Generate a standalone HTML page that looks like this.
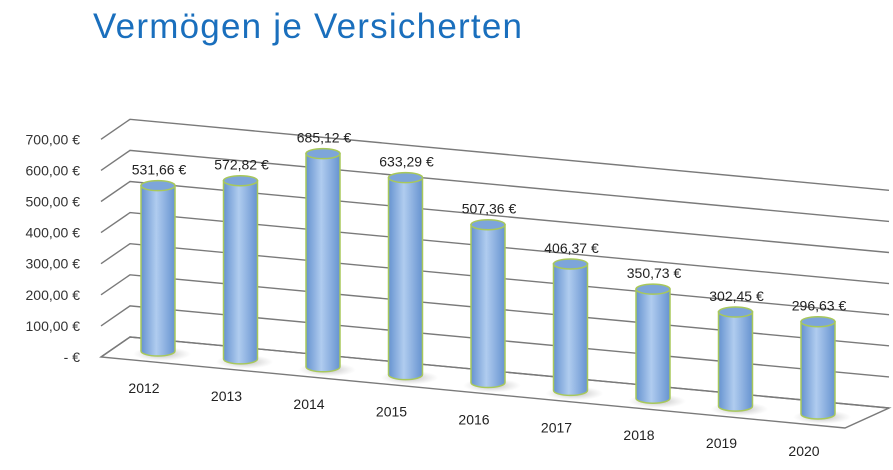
<!DOCTYPE html>
<html><head><meta charset="utf-8"><style>
html,body{margin:0;padding:0;background:#fff;}
svg{display:block;font-family:"Liberation Sans",sans-serif;}
</style></head><body>
<svg id="chart" width="893" height="470" viewBox="0 0 893 470">
<defs>
<linearGradient id="cyl" x1="0" x2="1" y1="0" y2="0">
<stop offset="0" stop-color="#6693d0"/><stop offset="0.45" stop-color="#b0ccef"/><stop offset="1" stop-color="#6693d0"/>
</linearGradient>
<radialGradient id="shadow"><stop offset="0" stop-color="#999" stop-opacity="0.7"/><stop offset="1" stop-color="#bbb" stop-opacity="0"/></radialGradient>
</defs>
<text x="93" y="38" font-size="35" fill="#1a6fbd" textLength="429">Vermögen je Versicherten</text>
<g id="grid"></g><g id="bars"></g><g id="labels"></g>
</svg>
<script>
const categories = ["2012","2013","2014","2015","2016","2017","2018","2019","2020"];
const values = [531.66,572.82,685.12,633.29,507.36,406.37,350.73,302.45,296.63];
const valueLabels = ["531,66 €","572,82 €","685,12 €","633,29 €","507,36 €","406,37 €","350,73 €","302,45 €","296,63 €"];
const ticks = [0,100,200,300,400,500,600,700];
const tickLabels = ["-  €","100,00 €","200,00 €","300,00 €","400,00 €","500,00 €","600,00 €","700,00 €"];

const NS="http://www.w3.org/2000/svg";
const slope=71/744, pxPer=31.1/100;
const fx0=101, fy0=357;
const bx0=130, by0=337;
const W=744;
function yv(v){return v*pxPer;}
function mk(tag,attrs,parent){const e=document.createElementNS(NS,tag);for(const k in attrs)e.setAttribute(k,attrs[k]);parent.appendChild(e);return e;}
const grid=document.getElementById('grid'), bars=document.getElementById('bars'), labels=document.getElementById('labels');

const fl=mk('polygon',{points:`${fx0},${fy0} ${bx0},${by0} ${bx0+W+15},${by0+W*slope} ${fx0+W},${fy0+W*slope}`,fill:'none',stroke:'#7a7a7a','stroke-width':1.4},grid);


ticks.forEach((t,i)=>{
  const h=yv(t);
  const g=mk('polyline',{points:`${fx0},${fy0-h} ${bx0},${by0-h} ${bx0+W+15},${by0-h+W*slope}`,fill:'none',stroke:'#7a7a7a','stroke-width':1.4},grid);
  
  
  const tl=mk('text',{x:80,y:fy0-h+5,'font-size':14,'text-anchor':'end',fill:'#333'},labels);
  tl.textContent=tickLabels[i];
  
  
});
const x0=158, dx=82.5, bw=34, ry=5;
categories.forEach((c,i)=>{
  const cx=x0+i*dx;
  const by=347+(cx-116)*slope;
  const ty=by-yv(values[i]);
  const g=mk('g',{},bars);
  
  
  mk('ellipse',{cx:cx+4,cy:by+3,rx:bw*0.85,ry:7,fill:'url(#shadow)'},g);
  mk('path',{d:`M${cx-bw/2},${ty} L${cx-bw/2},${by} A${bw/2},${ry} 0 0 0 ${cx+bw/2},${by} L${cx+bw/2},${ty} Z`,fill:'url(#cyl)',stroke:'#a8c85a','stroke-width':1.5},g);
  mk('ellipse',{cx:cx,cy:ty,rx:bw/2,ry:ry,fill:'#7da5da',stroke:'#a8c85a','stroke-width':1.5},g);
  const vl=mk('text',{x:cx+1,y:ty-11,'font-size':14,'text-anchor':'middle',fill:'#222'},labels);
  vl.textContent=valueLabels[i];
  
  
  const xl=mk('text',{x:cx-14,y:by+42,'font-size':14,'text-anchor':'middle',fill:'#222'},labels);
  xl.textContent=c;
  
  
});
</script>
</body></html>
